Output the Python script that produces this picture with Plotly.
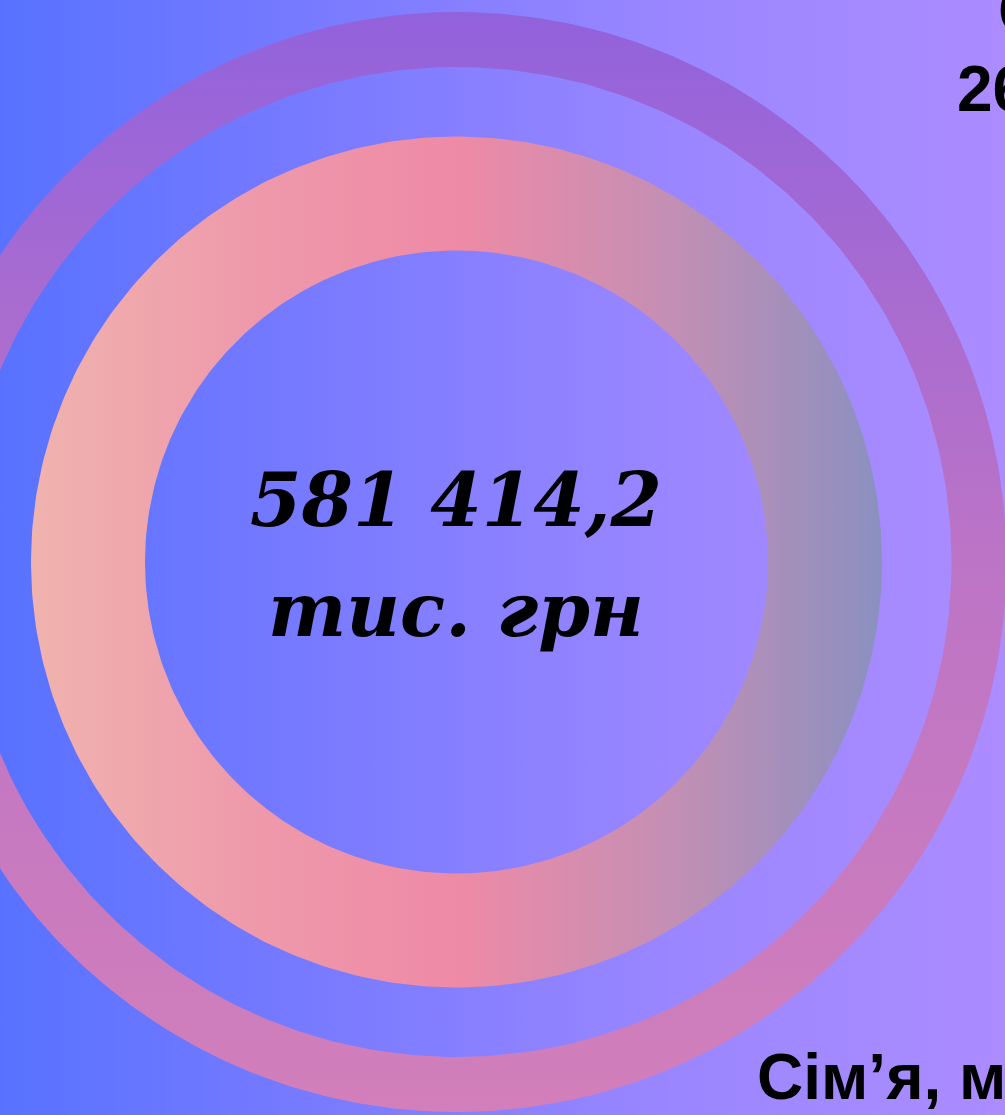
import numpy as np
import plotly.graph_objects as go

# chart content
total_value = "581 414,2"
total_unit = "тис. грн"
side_top = ["С", "26"]
side_bottom = "Сім’я, м"

# ring colours
bg_colors = ["#5872ff", "#7a7bff", "#9a86ff", "#ac8cff"]
outer_colors = ["#9262dc", "#bc74c6", "#d27fba"]
inner_colors = ["#f0b3ae", "#ee9aab", "#ee8aa6", "#c48fb4", "#8a90c0"]

W, H = 1005, 1115
cx, cy = 456.5, 562


def ring(r_out, r_in, n=400):
    t = np.linspace(0, 2 * np.pi, n)
    xs = np.concatenate([cx + r_out * np.cos(t), cx + r_in * np.cos(t[::-1])])
    ys = np.concatenate([cy + r_out * np.sin(t), cy + r_in * np.sin(t[::-1])])
    return xs, ys


def scale(cols):
    return [[i / (len(cols) - 1), c] for i, c in enumerate(cols)]


fig = go.Figure()

# background
fig.add_trace(go.Scatter(x=[0, W, W, 0, 0], y=[0, 0, H, H, 0], mode="lines",
                         fill="toself", line=dict(width=0),
                         fillgradient=dict(type="horizontal", colorscale=scale(bg_colors)),
                         hoverinfo="skip", showlegend=False))

# outer ring (y axis is reversed, so the colour list is flipped)
x, y = ring(550, 495)
fig.add_trace(go.Scatter(x=x, y=y, mode="lines", fill="toself", line=dict(width=0),
                         fillgradient=dict(type="vertical", colorscale=scale(outer_colors[::-1])),
                         hoverinfo="skip", showlegend=False))

# inner ring
x, y = ring(425.5, 311.5)
fig.add_trace(go.Scatter(x=x, y=y, mode="lines", fill="toself", line=dict(width=0),
                         fillgradient=dict(type="horizontal", colorscale=scale(inner_colors)),
                         hoverinfo="skip", showlegend=False))

serif = dict(family="DejaVu Serif", size=74, color="black", weight="bold", style="italic")
sans = dict(family="Liberation Sans", size=64, color="black", weight="bold")

fig.add_annotation(x=456, y=527, text=total_value, showarrow=False, font=serif,
                   xanchor="center", yanchor="bottom", yshift=-18)
fig.add_annotation(x=456, y=637, text=total_unit, showarrow=False, font=serif,
                   xanchor="center", yanchor="bottom", yshift=-18)
fig.add_annotation(x=996, y=34, text=side_top[0], showarrow=False, font=sans,
                   xanchor="left", yanchor="bottom", yshift=-15)
fig.add_annotation(x=955, y=112, text=side_top[1], showarrow=False, font=sans,
                   xanchor="left", yanchor="bottom", yshift=-15)
fig.add_annotation(x=755, y=1100, text=side_bottom, showarrow=False, font=sans,
                   xanchor="left", yanchor="bottom", yshift=-15)

fig.update_xaxes(range=[0, W], visible=False, fixedrange=True)
fig.update_yaxes(range=[H, 0], visible=False, fixedrange=True)
fig.update_layout(width=W, height=H, margin=dict(l=0, r=0, t=0, b=0),
                  paper_bgcolor="#8a80ff", plot_bgcolor="#8a80ff",
                  showlegend=False)

fig.write_html("out.html", config={"displayModeBar": False},
               post_script="document.body.style.margin='0';document.body.style.overflow='hidden';")
